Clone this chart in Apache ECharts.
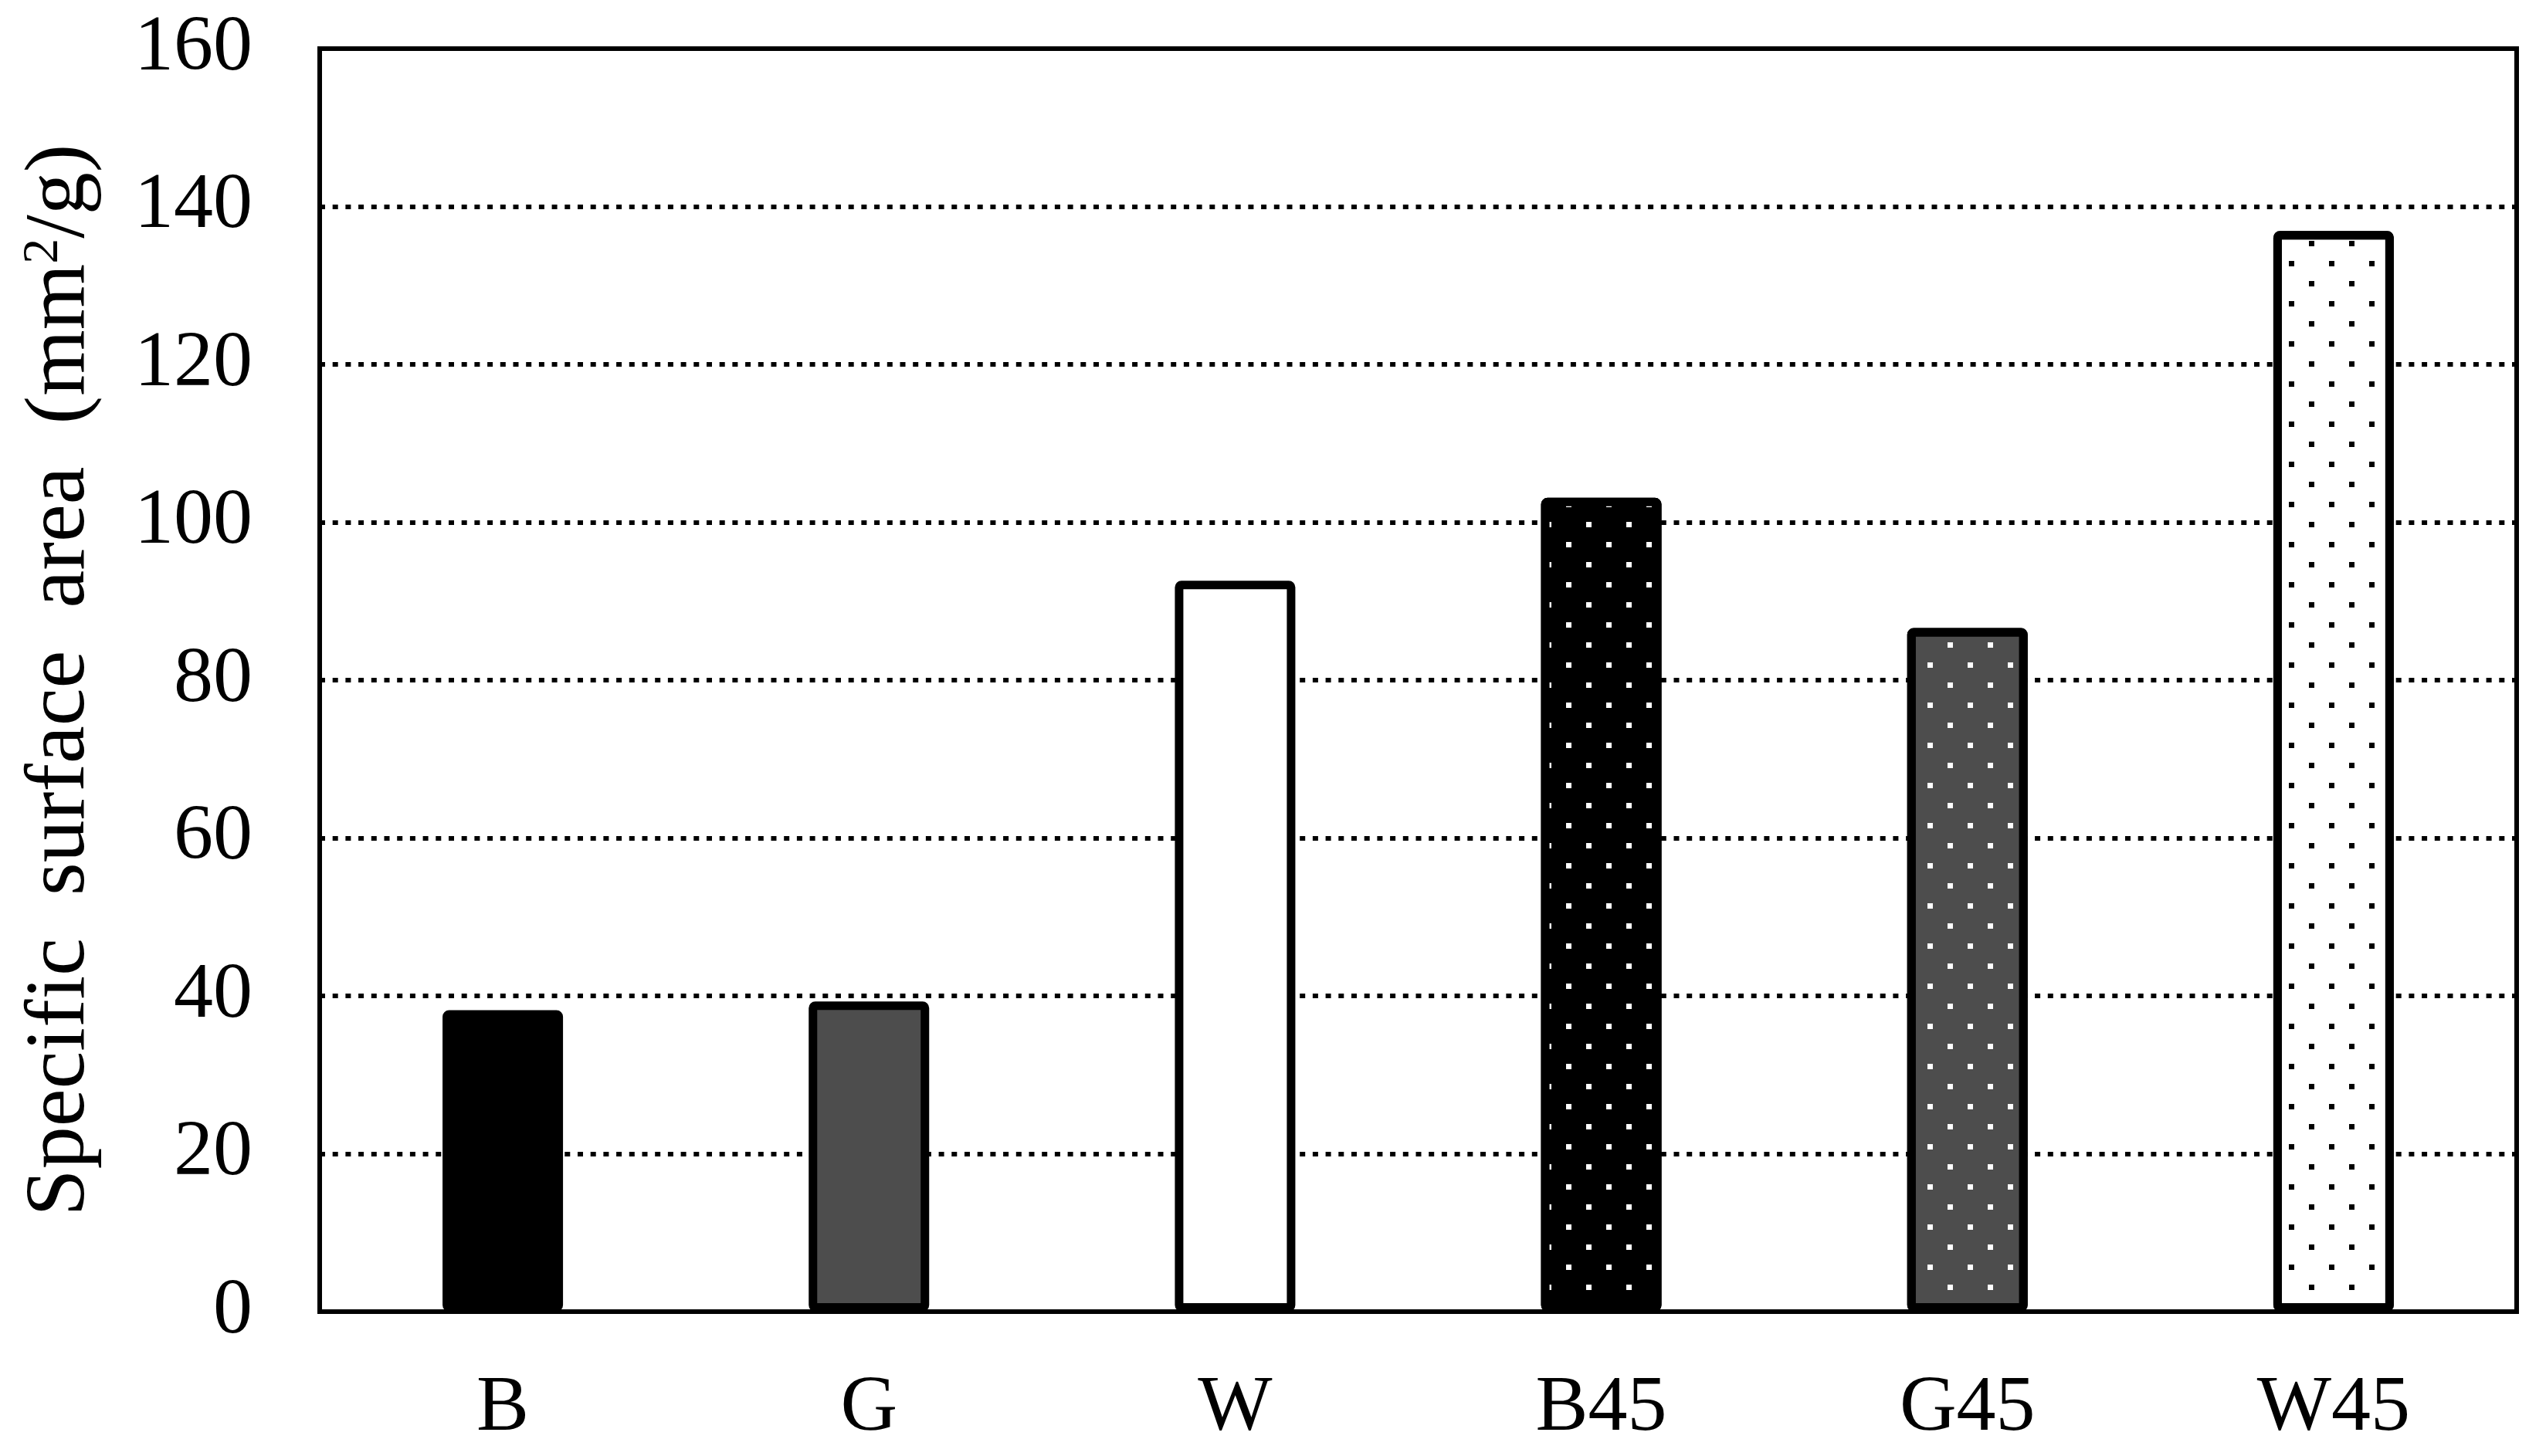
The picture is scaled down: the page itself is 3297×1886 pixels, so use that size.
<!DOCTYPE html>
<html>
<head>
<meta charset="utf-8">
<script src="https://cdn.jsdelivr.net/npm/echarts@6/dist/echarts.min.js"></script>
<style>
html,body{margin:0;padding:0;background:#fff;}
#chart{width:3297px;height:1886px;}
</style>
</head>
<body>
<div id="chart"></div>
<script>
// ---- data ----
const categories = ['B', 'G', 'W', 'B45', 'G45', 'W45'];
const values = [38.2, 39.3, 92.6, 103.1, 86.6, 136.9];
const yTicks = [0, 20, 40, 60, 80, 100, 120, 140, 160];
const yTitle = 'Specific  surface  area  (mm{sup|2}/g)';

// ---- styles (per bar) ----
const fills = ['#000000', '#4d4d4d', '#ffffff', '#000000', '#4d4d4d', '#ffffff'];
const dotColors = [null, null, null, '#ffffff', '#ffffff', '#000000'];

function makeDecal(c) {
  return {
    symbol: 'rect',
    symbolSize: 1,
    symbolKeepAspect: false,
    color: c,
    dashArrayX: [[7, 45], [0, 26, 7, 19]],
    dashArrayY: [7, 19]
  };
}

const seriesData = values.map((v, i) => {
  const style = {
    color: fills[i],
    borderColor: '#000000',
    borderWidth: 11,
    borderRadius: 3
  };
  if (dotColors[i]) style.decal = makeDecal(dotColors[i]);
  return { value: v, itemStyle: style };
});

const font = '"Liberation Serif", "Times New Roman", serif';
const chart = echarts.init(document.getElementById('chart'), null, { renderer: 'canvas' });
chart.setOption({
  backgroundColor: '#ffffff',
  animation: false,
  grid: {
    left: 414, right: 38, top: 63, bottom: 187,
    show: true, borderColor: '#000000', borderWidth: 6, backgroundColor: 'transparent'
  },
  xAxis: {
    type: 'category',
    data: categories,
    axisLine: { show: true, lineStyle: { color: '#000', width: 6 } },
    axisTick: { show: false },
    axisLabel: { color: '#000', fontFamily: font, fontSize: 102, margin: 75 },
    splitLine: { show: false }
  },
  yAxis: {
    type: 'value',
    min: yTicks[0],
    max: yTicks[yTicks.length - 1],
    interval: yTicks[1] - yTicks[0],
    name: yTitle,
    nameLocation: 'middle',
    nameRotate: 90,
    nameGap: 280,
    nameTextStyle: {
      color: '#000', fontFamily: font, fontSize: 110,
      rich: { sup: { fontFamily: font, fontSize: 66, verticalAlign: 'top', padding: [0, 0, 42, 0] } }
    },
    axisLine: { show: true, lineStyle: { color: '#000', width: 6 } },
    axisTick: { show: false },
    axisLabel: { color: '#000', fontFamily: font, fontSize: 102, margin: 87 },
    splitLine: { show: true, lineStyle: { color: '#000', width: 6, type: [7, 9.7] } }
  },
  series: [{
    type: 'bar',
    data: seriesData,
    barWidth: 156
  }]
});
</script>
</body>
</html>
